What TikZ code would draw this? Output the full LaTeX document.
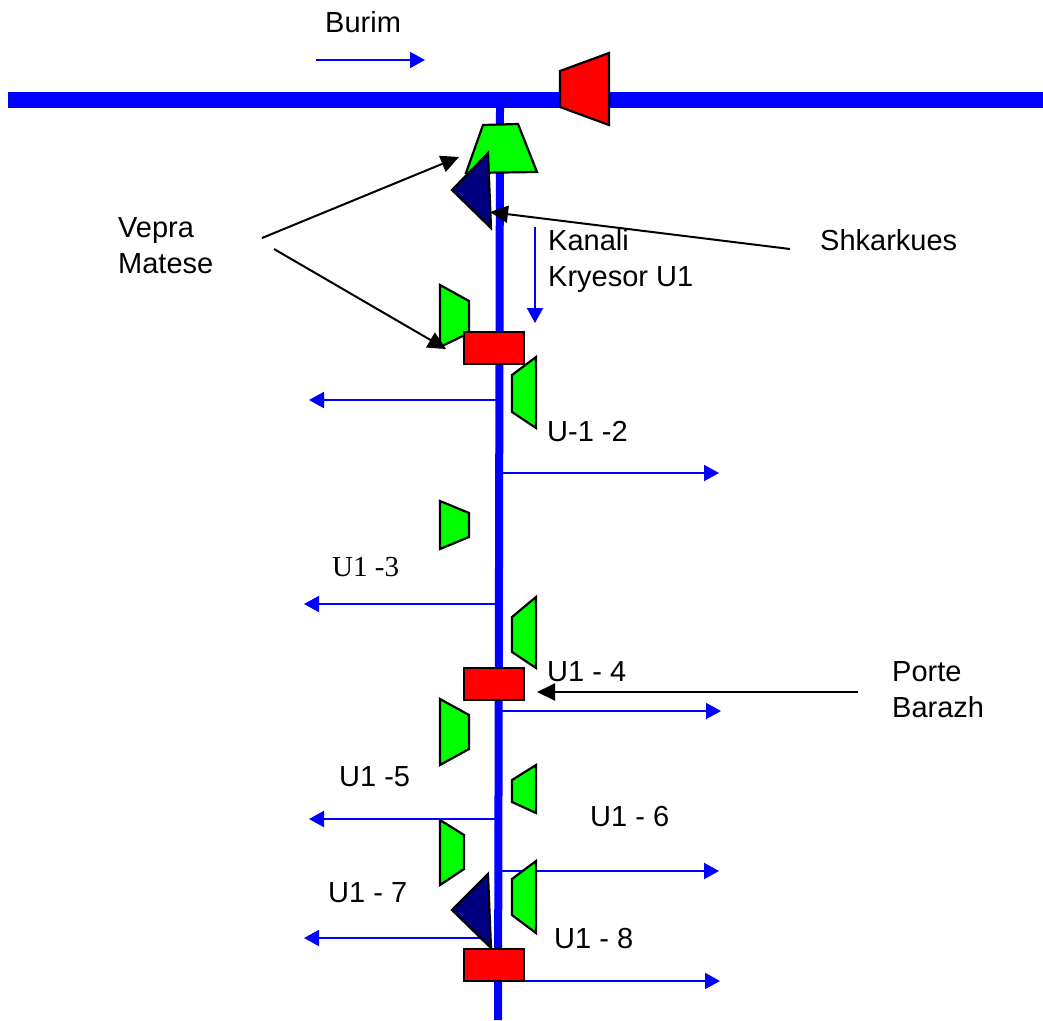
\documentclass[tikz,border=0pt]{standalone}
\usepackage{fontspec}
\setmainfont{Liberation Sans}
\newfontfamily\timesfont{Liberation Serif}
\usetikzlibrary{arrows.meta}
\tikzset{
	>={Triangle[length=15pt,width=16pt]},
	kanal/.style={draw=blue,line width=#1},
	dalje/.style={blue,line width=2pt,->},
	shenim/.style={black,line width=2pt,-{Triangle[length=18pt,width=17pt]}},
	vepra/.style={draw=black,line width=2.2pt,fill=green,line join=miter},
	veprak/.style={draw=black,line width=2.2pt,fill=red,line join=miter},
	shkark/.style={draw=black,line width=2.2pt,fill={rgb,255:red,0;green,0;blue,128},line join=miter},
	porta/.style={draw=black,line width=2.5pt,fill=red,minimum width=60pt,minimum height=32pt,inner sep=0pt},
	tekst/.style={anchor=west,inner sep=0pt,align=left,font=\fontsize{29}{36}\selectfont}
}
\begin{document}
\begin{tikzpicture}[x=1pt,y=-1pt]
	\useasboundingbox (0,0) rectangle (1043,1020);
	% kanalet
	\coordinate (kanalW) at (8,100);
	\coordinate (kanalE) at (1043,100);
	\coordinate (kanalN) at (500,108);
	\coordinate (kanalS) at (498,1020);
	\draw[kanal=8pt] (kanalN) -- (kanalS);
	\draw[kanal=16pt] (kanalW) -- (kanalE);
	% shigjetat blu
	\coordinate (burimA) at (316,60);
	\coordinate (burimB) at (425,60);
	\draw[dalje] (burimA) -- (burimB);
	\coordinate (kryesorA) at (535,227);
	\coordinate (kryesorB) at (535,323);
	\draw[dalje] (kryesorA) -- (kryesorB);
	\foreach \name/\ya/\xa/\xb in {a/400/497/309,b/473/500/719,c/604/497/304,d/711/500/721,e/819/497/309,f/871/500/719,g/938/490/304,h/981/524/720} {
		\coordinate (dal\name A) at (\xa,\ya);
		\coordinate (dal\name B) at (\xb,\ya);
		\draw[dalje] (dal\name A) -- (dal\name B);
	}
	% veprat
	\draw[veprak] (560,71) -- (609,53) -- (609,125) -- (560,107) -- cycle;
	\draw[vepra] (483,125) -- (518,124) -- (537,172) -- (466,173) -- cycle;
	\draw[shkark] (488,153) -- (452,190) -- (491,228) -- cycle;
	\draw[vepra] (440,285) -- (469,301) -- (469,333) -- (440,347) -- cycle;
	\draw[vepra] (536,357) -- (512,375) -- (512,412) -- (536,428) -- cycle;
	\draw[vepra] (440,501) -- (469,513) -- (469,537) -- (440,549) -- cycle;
	\draw[vepra] (536,597) -- (512,617) -- (512,652) -- (536,668) -- cycle;
	\draw[vepra] (440,699) -- (469,715) -- (469,749) -- (440,765) -- cycle;
	\draw[vepra] (536,765) -- (512,780) -- (512,802) -- (536,813) -- cycle;
	\draw[vepra] (440,820) -- (464,835) -- (464,869) -- (440,885) -- cycle;
	\draw[vepra] (536,861) -- (512,879) -- (512,915) -- (536,933) -- cycle;
	\draw[shkark] (488,874) -- (452,910) -- (491,948) -- cycle;
	\node[porta] (portaA) at (494,348) {};
	\node[porta] (portaB) at (494,684) {};
	\node[porta] (portaC) at (494,965) {};
	% tekstet
	\node[tekst] (burim) at (325,22) {Burim};
	\node[tekst] (vepratxt) at (118,246) {Vepra\\Matese};
	\node[tekst] (kanali) at (548,261) {Kanali\\Kryesor U1};
	\node[tekst] (shkarkues) at (820,240) {Shkarkues};
	\node[tekst] (ua) at (547,432) {U-1 -2};
	\node[tekst,font=\timesfont\fontsize{29}{36}\selectfont] (ub) at (332,567) {U1 -3};
	\node[tekst] (uc) at (547,672) {U1 - 4};
	\node[tekst] (portetxt) at (892,690) {Porte\\Barazh};
	\node[tekst] (ud) at (339,777) {U1 -5};
	\node[tekst] (ue) at (590,817) {U1 - 6};
	\node[tekst] (uf) at (328,893) {U1 - 7};
	\node[tekst] (ug) at (554,939) {U1 - 8};
	% shigjetat e zeza
	\coordinate (vepraA) at (262,238);
	\coordinate (vepraB) at (459,157);
	\draw[shenim] (vepraA) -- (vepraB);
	\coordinate (vepraC) at (274,249);
	\coordinate (vepraD) at (446,349);
	\draw[shenim] (vepraC) -- (vepraD);
	\coordinate (shkA) at (790,249);
	\coordinate (shkB) at (490,212);
	\draw[shenim] (shkA) -- (shkB);
	\coordinate (porteA) at (858,692);
	\coordinate (porteB) at (537,692);
	\draw[shenim] (porteA) -- (porteB);
\end{tikzpicture}
\end{document}
